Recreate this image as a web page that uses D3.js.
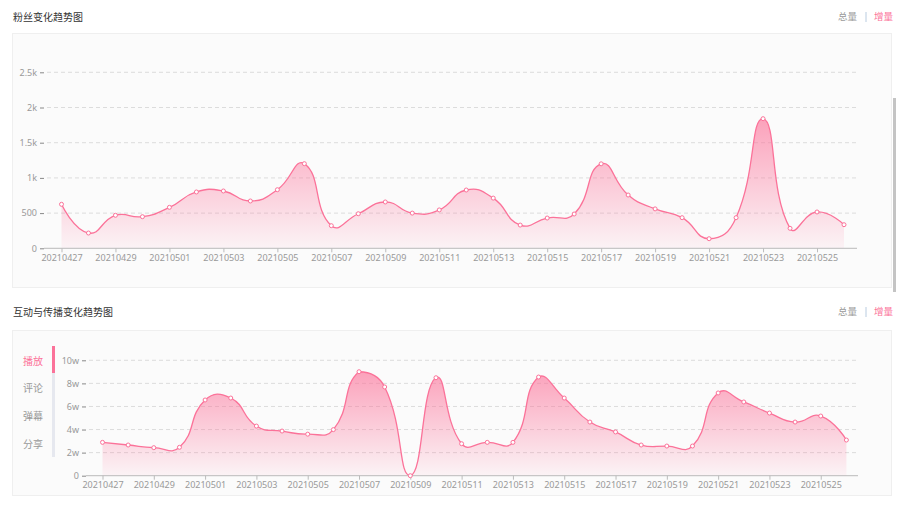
<!DOCTYPE html>
<html><head><meta charset="utf-8">
<script src="https://cdn.jsdelivr.net/npm/d3@7/dist/d3.min.js"></script>
<style>
html,body{margin:0;padding:0;background:#fff;}
svg{display:block;font-family:"Noto Sans","Noto Sans CJK SC",sans-serif;}
</style></head>
<body><svg id="c" width="900" height="514"></svg>
<script>
// ---------- data ----------
const dates = ["20210427","20210428","20210429","20210430","20210501","20210502","20210503","20210504","20210505","20210506","20210507","20210508","20210509","20210510","20210511","20210512","20210513","20210514","20210515","20210516","20210517","20210518","20210519","20210520","20210521","20210522","20210523","20210524","20210525","20210526"];
const fansValues = [625,217,469,449,582,800,814,672,832,1202,321,491,658,500,545,828,713,330,430,487,1200,757,560,435,136,435,1841,284,516,335];
const playValues = [28900,26600,24300,24600,65600,67300,43000,38700,36000,39900,90100,76900,0,84900,27700,28900,28900,85500,67300,46500,37900,26600,25700,25700,71700,63900,54300,46500,51700,30900];
const fansTicks = [0,500,1000,1500,2000,2500];
const playTicks = [0,20000,40000,60000,80000,100000];
const tabLabels = ["播放","评论","弹幕","分享"];
const legendLabels = ["总量","增量"];
const titles = ["粉丝变化趋势图","互动与传播变化趋势图"];

const PINK = "#fb7299";
const svg = d3.select("#c");
const defs = svg.append("defs");
const grad = defs.append("linearGradient").attr("id","g").attr("x1",0).attr("y1",0).attr("x2",0).attr("y2",1);
grad.append("stop").attr("offset",0).attr("stop-color",PINK).attr("stop-opacity",0.65);
grad.append("stop").attr("offset",1).attr("stop-color",PINK).attr("stop-opacity",0.06);

// ECharts-like smooth curve (smooth = 0.5, bbox constraint)
function EchartsCurve(ctx){ this._context = ctx; }
EchartsCurve.prototype = {
  areaStart(){ this._line = 0; },
  areaEnd(){ this._line = NaN; },
  lineStart(){ this._pts = []; },
  point(x,y){ this._pts.push([+x,+y]); },
  lineEnd(){
    const p = this._pts, n = p.length, c = this._context, s = 0.5;
    if (n) {
      const minX = d3.min(p,d=>d[0]), maxX = d3.max(p,d=>d[0]);
      const minY = d3.min(p,d=>d[1]), maxY = d3.max(p,d=>d[1]);
      const cl = (v,a,b)=>Math.max(a,Math.min(b,v));
      if (this._line) c.lineTo(p[0][0],p[0][1]); else c.moveTo(p[0][0],p[0][1]);
      let cp0 = [p[0][0],p[0][1]];
      for (let i=1;i<n;i++){
        const cur = p[i], prev = p[i-1], next = p[i+1];
        let cp1, ratio = 0.5, v = [0,0];
        if (!next) { cp1 = [cur[0],cur[1]]; }
        else {
          v = [next[0]-prev[0], next[1]-prev[1]];
          const l0 = Math.hypot(cur[0]-prev[0],cur[1]-prev[1]);
          const l1 = Math.hypot(next[0]-cur[0],next[1]-cur[1]);
          ratio = (l0+l1) ? l1/(l0+l1) : 0.5;
          cp1 = [cur[0]-v[0]*s*(1-ratio), cur[1]-v[1]*s*(1-ratio)];
        }
        cp0 = [cl(cp0[0],minX,maxX), cl(cp0[1],minY,maxY)];
        cp1 = [cl(cp1[0],minX,maxX), cl(cp1[1],minY,maxY)];
        c.bezierCurveTo(cp0[0],cp0[1],cp1[0],cp1[1],cur[0],cur[1]);
        cp0 = [cur[0]+v[0]*s*ratio, cur[1]+v[1]*s*ratio];
      }
    }
    if (this._line || (this._line !== 0 && n === 1)) c.closePath();
    this._line = 1 - this._line;
  }
};
const curveEcharts = ctx => new EchartsCurve(ctx);

// ---------- header / panels ----------
function header(y, title){
  svg.append("text").attr("x",13).attr("y",y).attr("dy","0.35em").attr("font-size",10).attr("fill","#333")
    .style("font-family","'Noto Sans CJK SC',sans-serif").text(title);
  svg.append("text").attr("x",857).attr("y",y).attr("dy","0.35em").attr("text-anchor","end").attr("font-size",9.5)
    .attr("fill","#999").style("font-family","'Noto Sans CJK SC',sans-serif").text(legendLabels[0]);
  svg.append("line").attr("x1",866).attr("x2",866).attr("y1",y-5).attr("y2",y+5).attr("stroke","#b9cce0").attr("stroke-width",1);
  svg.append("text").attr("x",874).attr("y",y).attr("dy","0.35em").attr("font-size",9.5)
    .attr("fill",PINK).style("font-family","'Noto Sans CJK SC',sans-serif").text(legendLabels[1]);
}
header(17, titles[0]);
header(312, titles[1]);
svg.append("rect").attr("x",12.5).attr("y",33.5).attr("width",879).attr("height",254).attr("fill","#fbfbfb").attr("stroke","#efefef");
svg.append("rect").attr("x",12.5).attr("y",330.5).attr("width",879).attr("height",165).attr("fill","#fbfbfb").attr("stroke","#efefef");
// scrollbar
svg.append("rect").attr("x",893).attr("y",98).attr("width",3).attr("height",194).attr("fill","#c4c4c4");

// ---------- chart builder ----------
function chart(opt){
  const x = d3.scalePoint().domain(dates).range([opt.x0, opt.x1]);
  const y = d3.scaleLinear().domain([0, opt.max]).range([opt.y0, opt.y1]);
  const g = svg.append("g");
  // grid
  g.selectAll(".grid").data(opt.ticks.filter(t=>t>0)).join("line")
    .attr("x1",opt.gl+3).attr("x2",opt.gr).attr("y1",d=>y(d)).attr("y2",d=>y(d))
    .attr("stroke","#dcdcdc").attr("stroke-dasharray","4,3");
  // y axis
  const ya = d3.axisLeft(y).tickValues(opt.ticks).tickSize(4).tickPadding(3).tickFormat(opt.fmt);
  const yg = g.append("g").attr("transform",`translate(${opt.gl},0)`).call(ya);
  yg.select(".domain").remove();
  yg.selectAll(".tick line").attr("stroke","#888");
  yg.selectAll(".tick text").attr("fill","#999").attr("font-size",9).style("font-family","'Noto Sans',sans-serif");
  // area + line
  const data = dates.map((d,i)=>({d, v: opt.values[i]}));
  g.append("path").datum(data).attr("fill","url(#g)")
    .attr("d", d3.area().x(d=>x(d.d)).y0(y(0)).y1(d=>y(d.v)).curve(curveEcharts));
  g.append("path").datum(data).attr("fill","none").attr("stroke",PINK).attr("stroke-width",1.3)
    .attr("d", d3.line().x(d=>x(d.d)).y(d=>y(d.v)).curve(curveEcharts));
  // x axis
  const xa = d3.axisBottom(x).tickValues(dates.filter((d,i)=>i%2===0)).tickSize(4).tickPadding(2);
  const xg = g.append("g").attr("transform",`translate(0,${y(0)})`).call(xa);
  xg.select(".domain").remove();
  xg.append("line").attr("x1",opt.gl).attr("x2",opt.gr).attr("stroke","#bbb");
  xg.selectAll(".tick line").attr("stroke","#bbb");
  xg.selectAll(".tick text").attr("fill","#999").attr("font-size",9).style("font-family","'Noto Sans',sans-serif");
  // points
  g.selectAll(".pt").data(data).join("circle")
    .attr("cx",d=>x(d.d)).attr("cy",d=>y(d.v)).attr("r",2)
    .attr("fill","#fff").attr("stroke",PINK).attr("stroke-width",1);
}

chart({values:fansValues, ticks:fansTicks, max:2500, x0:61.5, x1:844, y0:248.3, y1:72.3, gl:44, gr:857,
  fmt:v=> v>=1000 ? (v/1000)+"k" : String(v)});
chart({values:playValues, ticks:playTicks, max:100000, x0:102.5, x1:846.4, y0:475.7, y1:360.3, gl:86, gr:858,
  fmt:v=> v===0 ? "0" : (v/10000)+"w"});

// ---------- tabs ----------
const tabY = d3.scalePoint().domain(tabLabels).range([361, 444.3]);
svg.append("rect").attr("x",52).attr("y",346).attr("width",3).attr("height",111).attr("fill","#e6e8ef");
svg.append("rect").attr("x",52).attr("y",346).attr("width",3).attr("height",27).attr("fill",PINK);
svg.selectAll(".tab").data(tabLabels).join("text")
  .attr("x",23).attr("y",d=>tabY(d)).attr("dy","0.35em").attr("font-size",10)
  .style("font-family","'Noto Sans CJK SC',sans-serif")
  .attr("fill",(d,i)=> i===0 ? PINK : "#999").text(d=>d);
</script></body></html>
